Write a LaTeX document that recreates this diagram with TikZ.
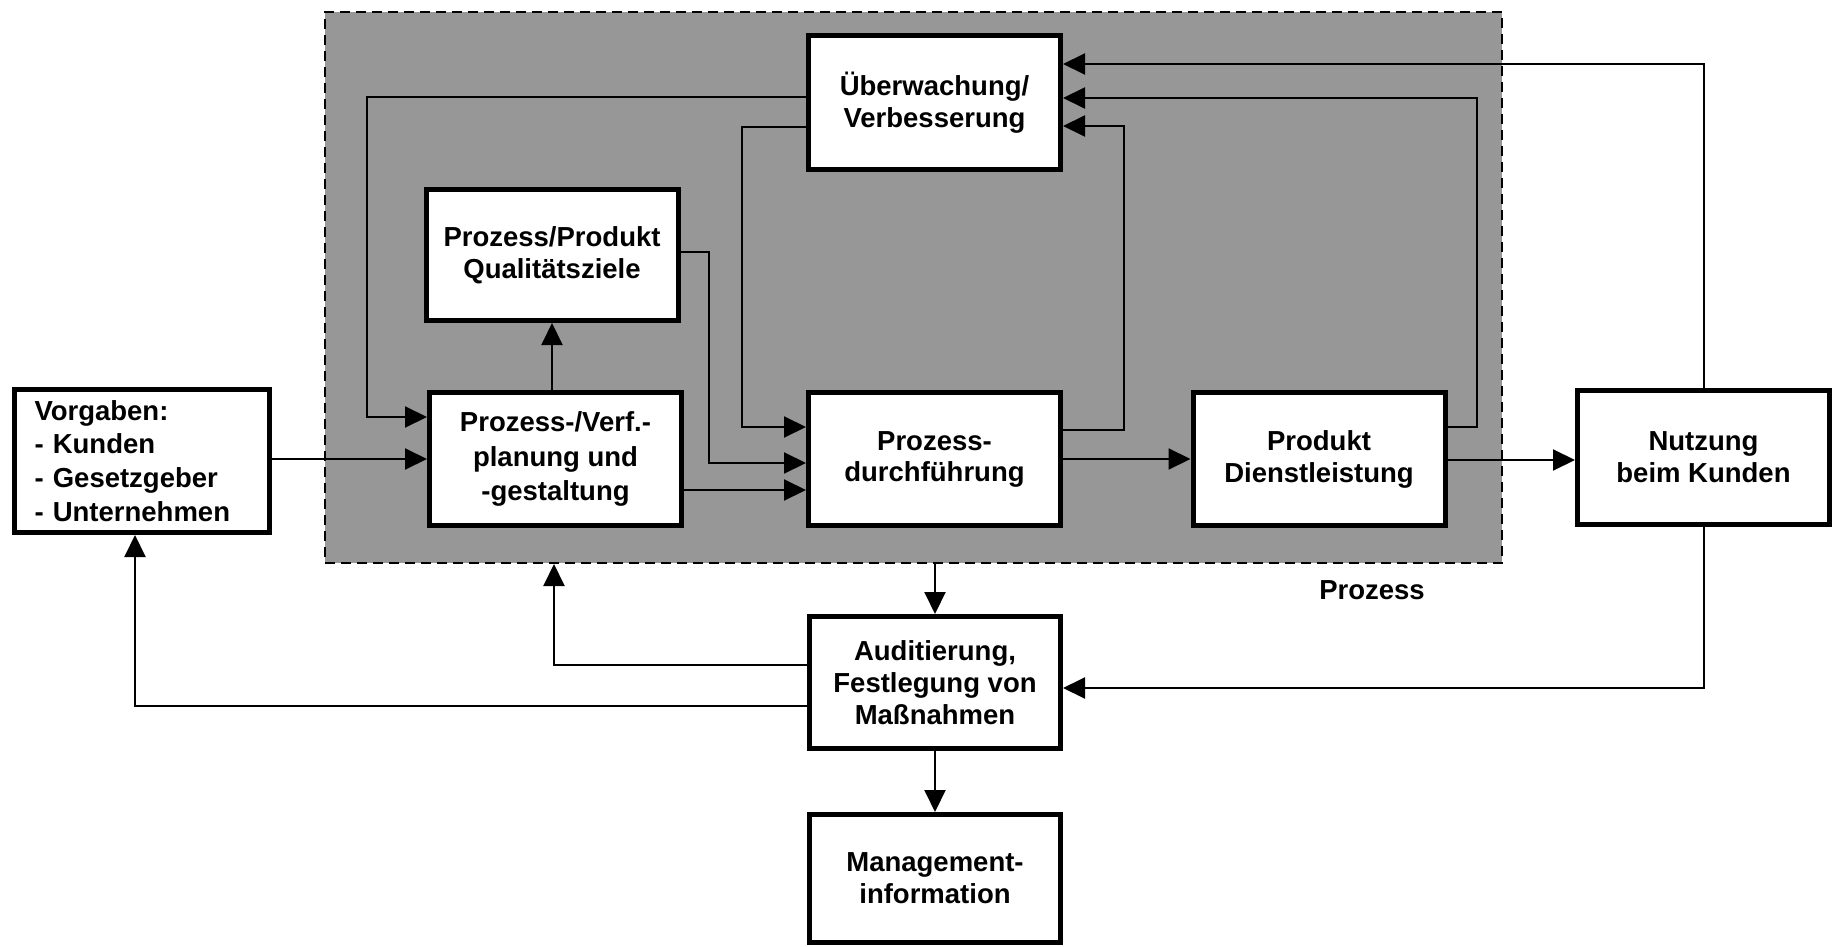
\documentclass[tikz,border=0pt]{standalone}
\usepackage{fontspec}
\setmainfont{Liberation Sans}
\usetikzlibrary{arrows.meta}
\definecolor{procgray}{RGB}{151,151,151}
\begin{document}
\begin{tikzpicture}[x=1pt,y=-1pt,
  box/.style={draw, line width=5pt, fill=white, inner sep=0pt,
    minimum width=252pt, minimum height=133pt, align=center,
    font=\bfseries\fontsize{27.5}{32}\selectfont},
  arr/.style={line width=2pt, -{Triangle[length=22pt,width=21pt]}},
  procarea/.style={draw, line width=2pt, dash pattern=on 10pt off 6pt,
    fill=procgray, inner sep=0pt}]
\useasboundingbox (0,0) rectangle (1834,947);

% process area
\node[procarea, minimum width=1177pt, minimum height=551pt] (proc) at (913.5,287.5) {};
\node[anchor=base, font=\bfseries\fontsize{27.5}{32}\selectfont] (proclabel) at (1372,599) {Prozess};

% boxes
\node[box, minimum height=134pt] (ueb) at (934.5,102.5) {Überwachung/\\Verbesserung};
\node[box, minimum height=131pt] (ziel) at (552,255) {Prozess/Produkt\\Qualitätsziele};
\node[box, font=\bfseries\fontsize{27.5}{34.5}\selectfont] (plan) at (555.5,459) {Prozess-/Verf.-\\planung und\\-gestaltung};
\node[box, font=\bfseries\fontsize{27.5}{31}\selectfont] (durch) at (934.5,459) {Prozess-\\durchführung};
\node[box] (prod) at (1319,459) {Produkt\\Dienstleistung};
\node[box, minimum height=134pt] (nutz) at (1703.5,457.5) {Nutzung\\beim Kunden};
\node[box, minimum width=255pt, minimum height=143pt, text width=215pt, align=left,
  font=\bfseries\fontsize{27.5}{33.7}\selectfont] (vorg) at (142,461)
  {Vorgaben:\\- Kunden\\- Gesetzgeber\\- Unternehmen};
\node[box, minimum width=251pt, minimum height=132pt] (audit) at (935,682.5) {Auditierung,\\Festlegung von\\Maßnahmen};
\node[box, minimum width=251pt, minimum height=128pt] (mgmt) at (935,878.5) {Management-\\information};

% main flow
\draw[arr] (vorg.east |- plan.west) -- (plan.west);
\draw[arr] (plan.north -| ziel.south) -- (ziel.south);
\draw[arr] (plan.east |- 0,490) -- (durch.west |- 0,490);
\draw[arr] (durch.east |- 0,459) -- (prod.west |- 0,459);
\draw[arr] (prod.east |- 0,460) -- (nutz.west |- 0,460);

% feedback from monitoring
\draw[arr] (ueb.west |- 0,97) -- (367,97) -- (367,417) -- (plan.west |- 0,417);
\draw[arr] (ueb.west |- 0,127) -- (742,127) -- (742,427) -- (durch.west |- 0,427);
\draw[arr] (ziel.east |- 0,252) -- (709,252) -- (709,463) -- (durch.west |- 0,463);

% returns into monitoring
\draw[arr] (durch.east |- 0,430) -- (1124,430) -- (1124,126) -- (ueb.east |- 0,126);
\draw[arr] (prod.east |- 0,427) -- (1477,427) -- (1477,98) -- (ueb.east |- 0,98);
\draw[arr] (nutz.north) -- (nutz.north |- 0,64) -- (ueb.east |- 0,64);

% audit loop
\draw[arr] (nutz.south) -- (nutz.south |- 0,688) -- (audit.east |- 0,688);
\draw[arr] (proc.south -| audit.north) -- (audit.north);
\draw[arr] (audit.west |- 0,665) -| (proc.south -| 554,0);
\draw[arr] (audit.west |- 0,706) -| (vorg.south -| 135,0);
\draw[arr] (audit.south) -- (mgmt.north);
\end{tikzpicture}
\end{document}
